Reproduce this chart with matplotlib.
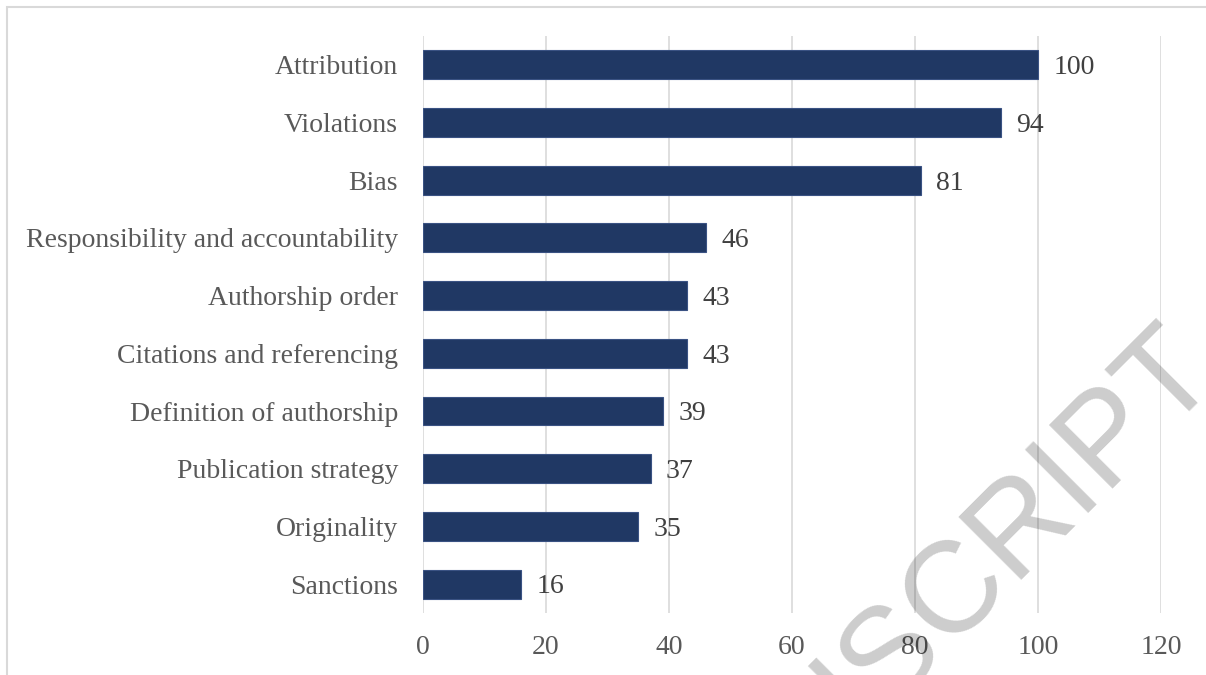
import matplotlib.pyplot as plt
from matplotlib.patches import Rectangle

# 数据
categories = ['Attribution', 'Violations', 'Bias', 'Responsibility and accountability',
              'Authorship order', 'Citations and referencing', 'Definition of authorship',
              'Publication strategy', 'Originality', 'Sanctions']
counts = [100, 94, 81, 46, 43, 43, 39, 37, 35, 16]
x_ticks = [0, 20, 40, 60, 80, 100, 120]

plt.rcParams['font.family'] = ['Liberation Serif', 'DejaVu Serif']

fig = plt.figure(figsize=(12.06, 6.75), dpi=100)
ax = fig.add_axes([0.3507, 0.0919, 0.6120, 0.8548])

# 外框
fig.patches.append(Rectangle((6.5 / 1206, -0.1), 1.2, 1 - 7 / 675 + 0.1,
                             transform=fig.transFigure, fill=False,
                             edgecolor='#d9d9d9', linewidth=1.5))

y = list(range(len(categories)))
ax.barh(y, counts, height=0.5, color='#203864', edgecolor='#3a5283',
        linewidth=0.8, zorder=3)

for yi, v in zip(y, counts):
    ax.annotate(str(v), (v, yi), xytext=(11, -2), textcoords='offset points',
                ha='left', va='center', fontsize=20, color='#404040', zorder=4)

ax.set_xlim(0, 120)
ax.set_ylim(len(categories) - 0.5, -0.5)
ax.set_xticks(x_ticks)
ax.set_yticks(y)
ax.set_yticklabels(categories)
ax.tick_params(axis='both', length=0, labelsize=20, labelcolor='#595959')
ax.tick_params(axis='x', pad=16)
ax.tick_params(axis='y', pad=18)
ax.xaxis.grid(True, color='#d9d9d9', linewidth=1.2, zorder=0)
for s in ax.spines.values():
    s.set_visible(False)

# 水印
fig.text(1222 / 1206, 1 - 379 / 675, 'ACCEPTED MANUSCRIPT', fontsize=93,
         family='Liberation Sans', color='black', alpha=0.2, rotation=45,
         rotation_mode='anchor', ha='right', va='baseline', zorder=10)

fig.savefig('out.png', dpi=100)
